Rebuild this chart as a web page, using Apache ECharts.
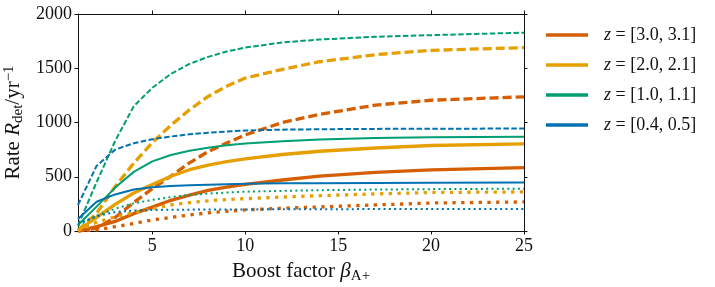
<!DOCTYPE html>
<html>
<head>
<meta charset="utf-8">
<script src="https://cdn.jsdelivr.net/npm/echarts@6/dist/echarts.min.js"></script>
<style>html,body{margin:0;padding:0;background:#fff;}#c{width:715px;height:287px;}</style>
</head>
<body>
<div id="c"></div>
<script>
// Boost factor sample points
const xs = [1, 2, 3, 4, 5, 6, 7, 8, 9, 10, 12, 14, 17, 20, 25];

// z = [3.0, 3.1]
const z30Solid  = [0, 40, 88, 160, 220, 283, 330, 375, 405, 430, 470, 505, 540, 563, 585];
const z30Dashed = [0, 25, 125, 262, 390, 505, 628, 732, 810, 886, 1000, 1075, 1160, 1205, 1237];
const z30Dotted = [0, 10, 40, 70, 102, 125, 148, 167, 182, 194, 210, 222, 240, 258, 268];
// z = [2.0, 2.1]
const z20Solid  = [5, 125, 245, 350, 428, 505, 565, 608, 640, 664, 705, 735, 765, 788, 803];
const z20Dashed = [5, 163, 409, 625, 815, 975, 1117, 1240, 1335, 1410, 1490, 1560, 1625, 1665, 1690];
const z20Dotted = [5, 80, 130, 170, 205, 240, 262, 278, 290, 298, 313, 326, 342, 355, 360];
// z = [1.0, 1.1]
const z10Solid  = [55, 225, 400, 545, 642, 700, 740, 768, 790, 806, 828, 843, 856, 863, 868];
const z10Dashed = [50, 450, 830, 1150, 1320, 1448, 1540, 1605, 1655, 1690, 1738, 1765, 1790, 1805, 1828];
const z10Dotted = [50, 140, 205, 255, 287, 313, 332, 345, 354, 362, 370, 376, 382, 386, 390];
// z = [0.4, 0.5]
const z04Solid  = [110, 270, 337, 383, 403, 414, 421, 427, 432, 436, 439, 441, 443, 445, 446];
const z04Dashed = [240, 600, 750, 809, 846, 871, 892, 905, 917, 926, 934, 938, 941, 943, 944];
const z04Dotted = [70, 135, 175, 188, 193, 196, 197, 198, 199, 199, 200, 201, 202, 202, 203];

const zLabels = ['[3.0, 3.1]', '[2.0, 2.1]', '[1.0, 1.1]', '[0.4, 0.5]'];
const xTicks = [5, 10, 15, 20, 25];

const colors = ['#d55e00', '#e69f00', '#009e73', '#0072b2'];
const widths = [3.3, 3.3, 2, 2];
const groups = [
  [z30Solid, z30Dashed, z30Dotted],
  [z20Solid, z20Dashed, z20Dotted],
  [z10Solid, z10Dashed, z10Dotted],
  [z04Solid, z04Dashed, z04Dotted]
];

const FONT = 'Liberation Serif';
const series = [];
groups.forEach((g, gi) => {
  const w = widths[gi];
  const styles = ['solid', [w * 2.75, w * 1.2], [w, w * 1.65]];
  const suffix = ['', ' dashed', ' dotted'];
  g.forEach((arr, si) => {
    series.push({
      name: 'z = ' + zLabels[gi] + suffix[si],
      type: 'line',
      data: xs.map((x, i) => [x, arr[i]]),
      showSymbol: false,
      symbol: 'none',
      smooth: false,
      color: colors[gi],
      lineStyle: { color: colors[gi], width: w, type: styles[si], cap: 'butt', join: 'round' },
      emphasis: { disabled: true },
      animation: false
    });
  });
});

const axisLine = { show: true, onZero: false, lineStyle: { color: '#111', width: 1 } };
const tickStyle = { show: true, inside: false, length: 3.5, lineStyle: { color: '#111', width: 1 } };
const labelStyle = { fontFamily: FONT, fontSize: 18, color: '#111' };

const chart = echarts.init(document.getElementById('c'), null, { renderer: 'canvas' });
chart.setOption({
  animation: false,
  grid: { left: 78, right: 191, top: 14, bottom: 56, containLabel: false, outerBoundsMode: 'none' },
  legend: {
    data: zLabels.map(l => 'z = ' + l),
    orient: 'vertical',
    left: 541,
    top: 20,
    icon: 'rect',
    itemWidth: 42,
    itemHeight: 3.5,
    itemGap: 10,
    selectedMode: false,
    formatter: name => '{i|z} = ' + name.slice(4),
    textStyle: {
      fontFamily: FONT, fontSize: 18, color: '#111', lineHeight: 20,
      padding: [0, 0, 0, 11],
      rich: { i: { fontFamily: FONT, fontSize: 18, fontStyle: 'italic', color: '#111', lineHeight: 20 } }
    }
  },
  xAxis: [
    {
      type: 'value', min: 1, max: 25, position: 'bottom',
      axisLine: axisLine,
      axisTick: Object.assign({ customValues: xTicks }, tickStyle),
      axisLabel: Object.assign({ customValues: xTicks, margin: 6, formatter: v => String(v) }, labelStyle),
      splitLine: { show: false },
      name: 'Boost factor {b|β}{s|A+}',
      nameLocation: 'middle',
      nameGap: 23,
      nameTextStyle: {
        fontFamily: FONT, fontSize: 21, color: '#111', lineHeight: 24,
        rich: {
          b: { fontFamily: FONT, fontSize: 21, fontStyle: 'italic', color: '#111', lineHeight: 24 },
          s: { fontFamily: FONT, fontSize: 15, color: '#111', lineHeight: 12, verticalAlign: 'bottom' }
        }
      }
    },
    {
      type: 'value', min: 1, max: 25, position: 'top',
      axisLine: axisLine,
      axisTick: Object.assign({ customValues: xTicks }, tickStyle),
      axisLabel: { show: false },
      splitLine: { show: false }
    }
  ],
  yAxis: [
    {
      type: 'value', min: 0, max: 2000, interval: 500, position: 'left',
      axisLine: axisLine,
      axisTick: tickStyle,
      axisLabel: Object.assign({ margin: 6, formatter: v => String(v) }, labelStyle),
      splitLine: { show: false },
      name: 'Rate {r|R}{s|det}/yr{p|−1}',
      nameLocation: 'middle',
      nameGap: 45,
      nameTextStyle: {
        fontFamily: FONT, fontSize: 21, color: '#111', lineHeight: 24,
        rich: {
          r: { fontFamily: FONT, fontSize: 21, fontStyle: 'italic', color: '#111', lineHeight: 24 },
          s: { fontFamily: FONT, fontSize: 15, color: '#111', lineHeight: 12, verticalAlign: 'bottom' },
          p: { fontFamily: FONT, fontSize: 15, color: '#111', lineHeight: 12, verticalAlign: 'top' }
        }
      }
    },
    {
      type: 'value', min: 0, max: 2000, interval: 500, position: 'right',
      axisLine: axisLine,
      axisTick: tickStyle,
      axisLabel: { show: false },
      splitLine: { show: false }
    }
  ],
  series: series
});
</script>
</body>
</html>
